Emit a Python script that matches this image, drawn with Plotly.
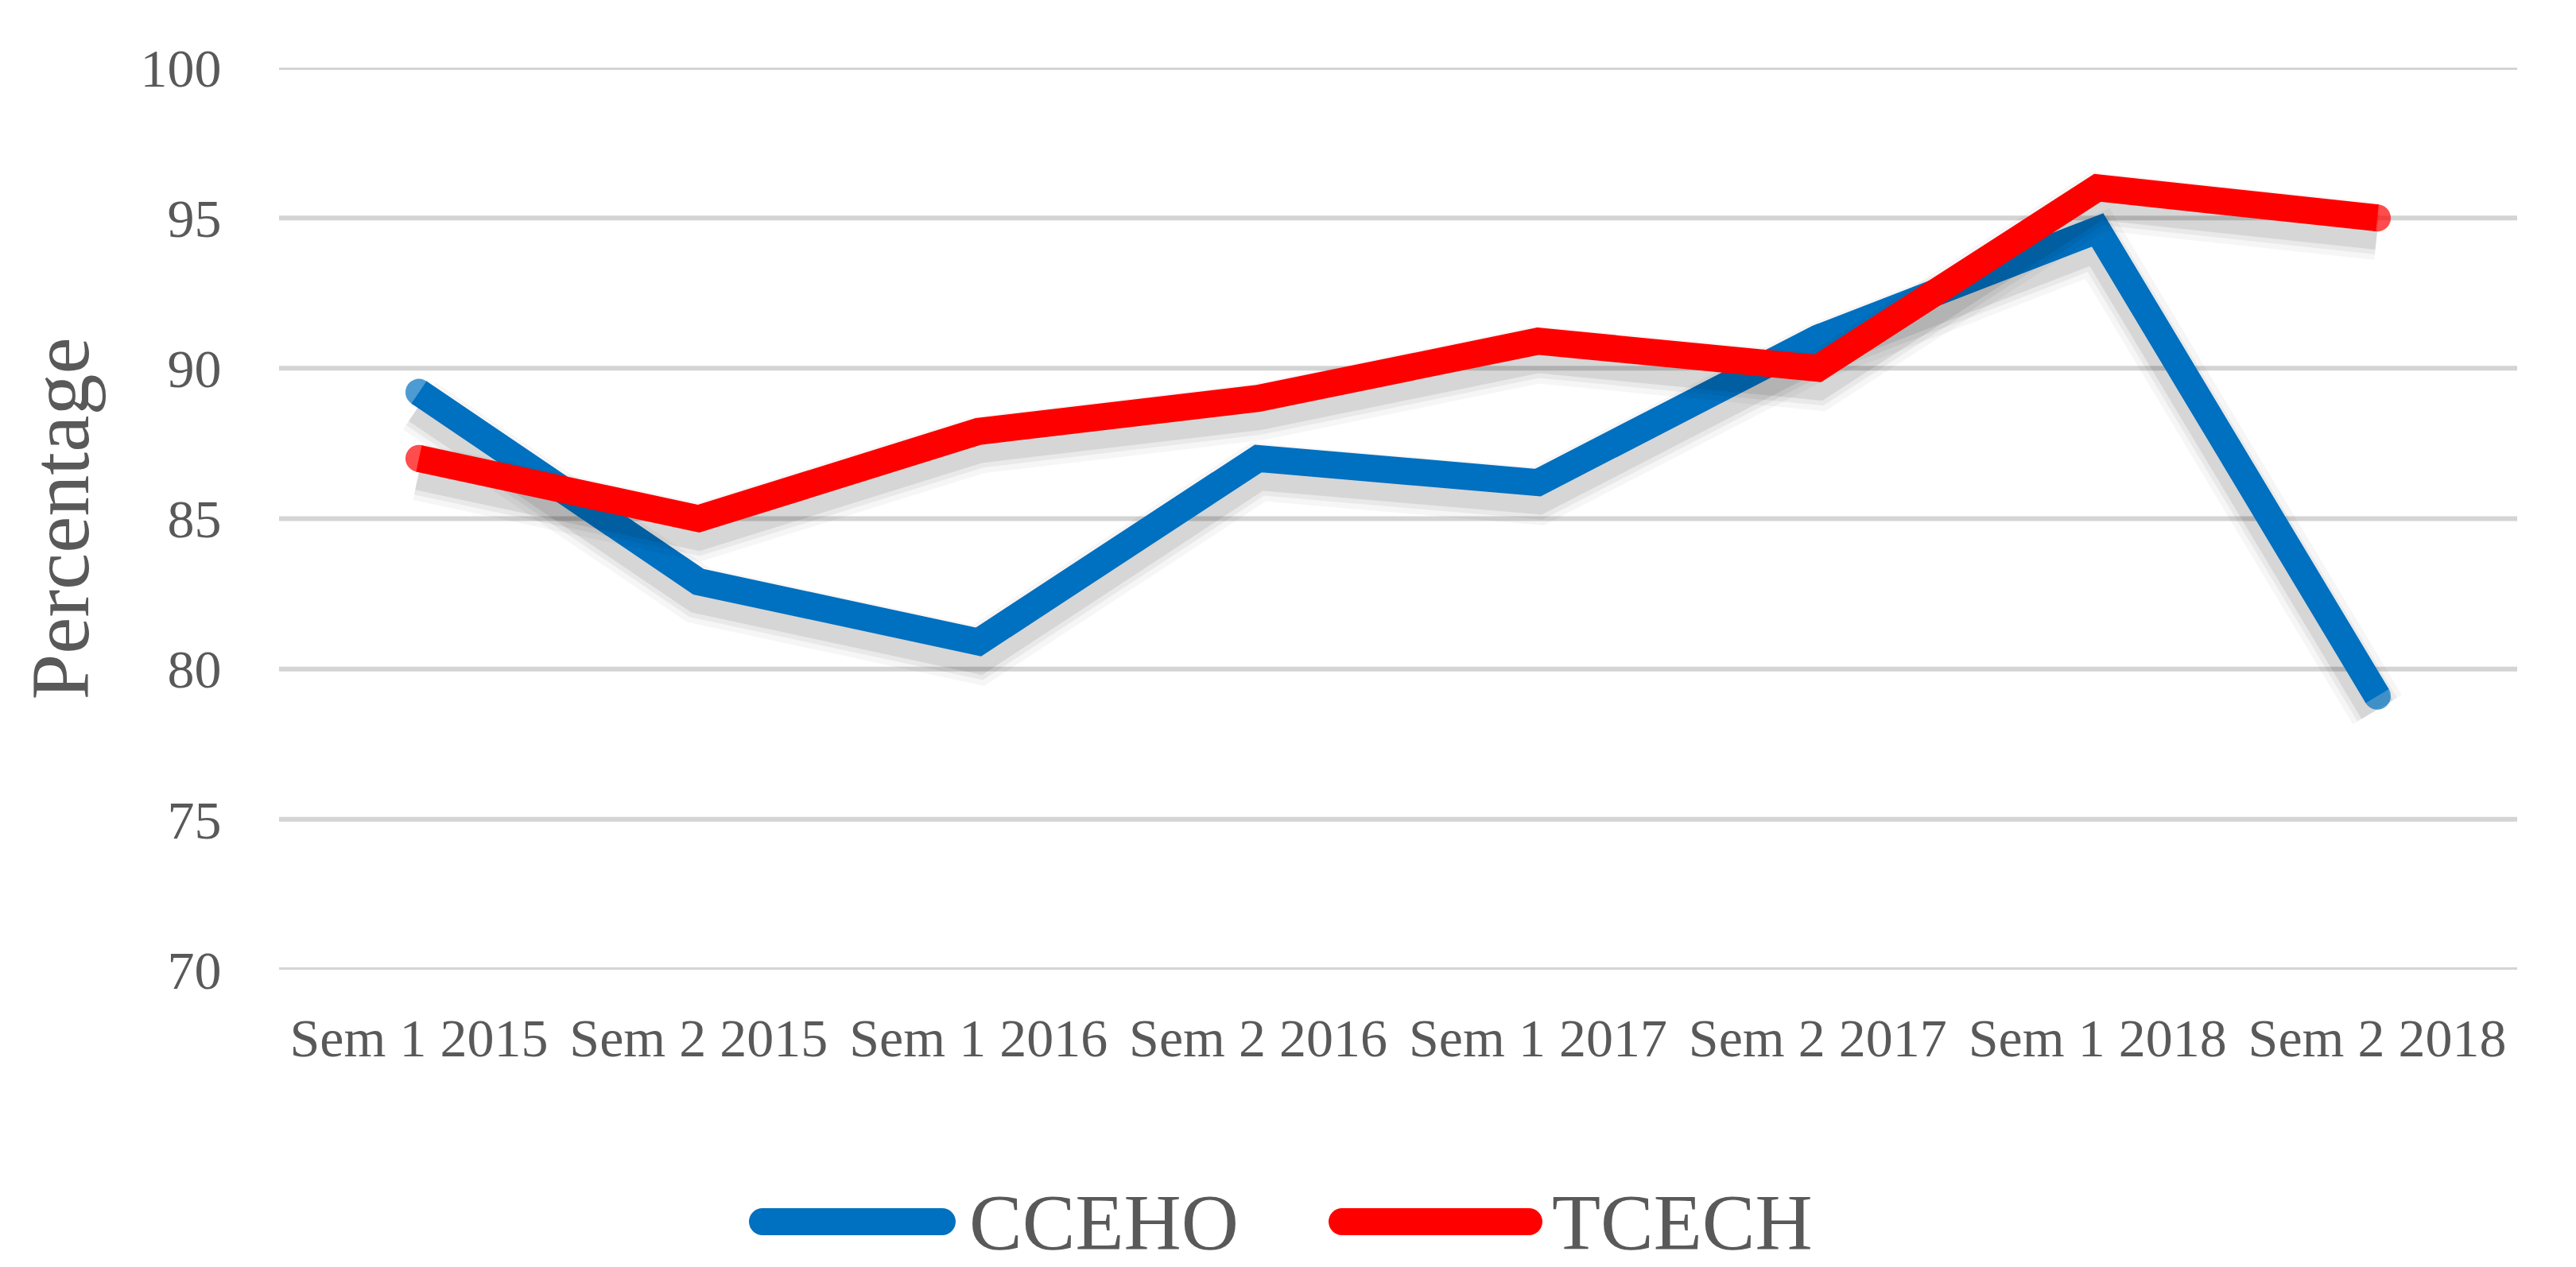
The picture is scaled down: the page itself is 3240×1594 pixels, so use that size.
import plotly.graph_objects as go

categories = ["Sem 1 2015", "Sem 2 2015", "Sem 1 2016", "Sem 2 2016",
              "Sem 1 2017", "Sem 2 2017", "Sem 1 2018", "Sem 2 2018"]
cceho_name = "CCEHO"
tcech_name = "TCECH"
cceho = [89.2, 82.9, 80.9, 87.0, 86.2, 91.0, 94.6, 79.1]
tcech = [87.0, 85.0, 87.9, 89.0, 90.9, 90.0, 96.0, 95.0]
y_ticks = [70, 75, 80, 85, 90, 95, 100]

BLUE = "#0070C0"
RED = "#FF0000"
GREY_TXT = "#595959"
GRID = "#D4D4D4"
FONT = "Liberation Serif"
LW = 34

W, H = 3240, 1594
L, R, T, B = 343, 82, 77, 382

fig = go.Figure()

# horizontal gridlines (including the edges at 70 and 100)
for v in y_ticks:
    fig.add_shape(type="line", xref="paper", yref="y", x0=0, x1=1, y0=v, y1=v,
                  line=dict(color=GRID, width=6), layer="below")

SHADOW_DROP = 0.45  # in axis units, soft drop shadow below each line
end_sizes = [LW] + [0] * (len(categories) - 2) + [LW]

for name, vals, col in ((cceho_name, cceho, BLUE), (tcech_name, tcech, RED)):
    shadow = [v - SHADOW_DROP for v in vals]
    for w, a in ((72, 0.035), (58, 0.05), (46, 0.08)):
        fig.add_trace(go.Scatter(x=categories, y=shadow, mode="lines",
                                 line=dict(color=f"rgba(0,0,0,{a})", width=w),
                                 hoverinfo="skip", showlegend=False))
    fig.add_trace(go.Scatter(x=categories, y=vals, mode="lines+markers", name=name,
                             line=dict(color=col, width=LW),
                             marker=dict(color=col, size=end_sizes, line=dict(width=0)),
                             showlegend=False))

pw = W - L - R
ph = H - T - B


def px_x(px):
    return (px - L) / pw


def px_y(py):
    return (H - B - py) / ph


shapes = []
annotations = []
legend_items = [
    (cceho_name, BLUE, 934, 1194, 1209),
    (tcech_name, RED, 1663, 1932, 1942),
]
ly = 1529
r = LW // 2
for name, col, x0, x1, tx in legend_items:
    shapes.append(dict(type="line", xref="paper", yref="paper",
                       x0=px_x(x0 + r), x1=px_x(x1 - r), y0=px_y(ly), y1=px_y(ly),
                       line=dict(color=col, width=LW)))
    for cx in (x0 + r, x1 - r):
        shapes.append(dict(type="circle", xref="paper", yref="paper",
                           xsizemode="pixel", ysizemode="pixel",
                           xanchor=px_x(cx), yanchor=px_y(ly),
                           x0=-r, x1=r, y0=-r, y1=r,
                           fillcolor=col, line=dict(width=0)))
    annotations.append(dict(xref="paper", yref="paper", x=px_x(tx), y=px_y(ly),
                            xanchor="left", yanchor="middle", text=name, showarrow=False,
                            font=dict(family=FONT, size=100, color=GREY_TXT)))

for s in shapes:
    fig.add_shape(**s)

fig.update_layout(
    width=W, height=H,
    margin=dict(l=L, r=R, t=T, b=B),
    paper_bgcolor="white", plot_bgcolor="white",
    font=dict(family=FONT, color=GREY_TXT),
    annotations=annotations,
    showlegend=False,
)
fig.update_xaxes(type="category", categoryorder="array", categoryarray=categories,
                 range=[-0.5, len(categories) - 0.5],
                 showgrid=False, showline=False, zeroline=False,
                 ticks="outside", ticklen=26, tickcolor="rgba(0,0,0,0)",
                 tickfont=dict(family=FONT, size=68, color=GREY_TXT))
fig.update_yaxes(range=[70, 100], tickvals=y_ticks, ticktext=[str(v) for v in y_ticks],
                 showgrid=False, showline=False, zeroline=False,
                 ticks="outside", ticklen=58, tickcolor="rgba(0,0,0,0)",
                 tickfont=dict(family=FONT, size=68, color=GREY_TXT),
                 title=dict(text="Percentage", standoff=30,
                            font=dict(family=FONT, size=104, color=GREY_TXT)))

fig.write_html("out.html")
